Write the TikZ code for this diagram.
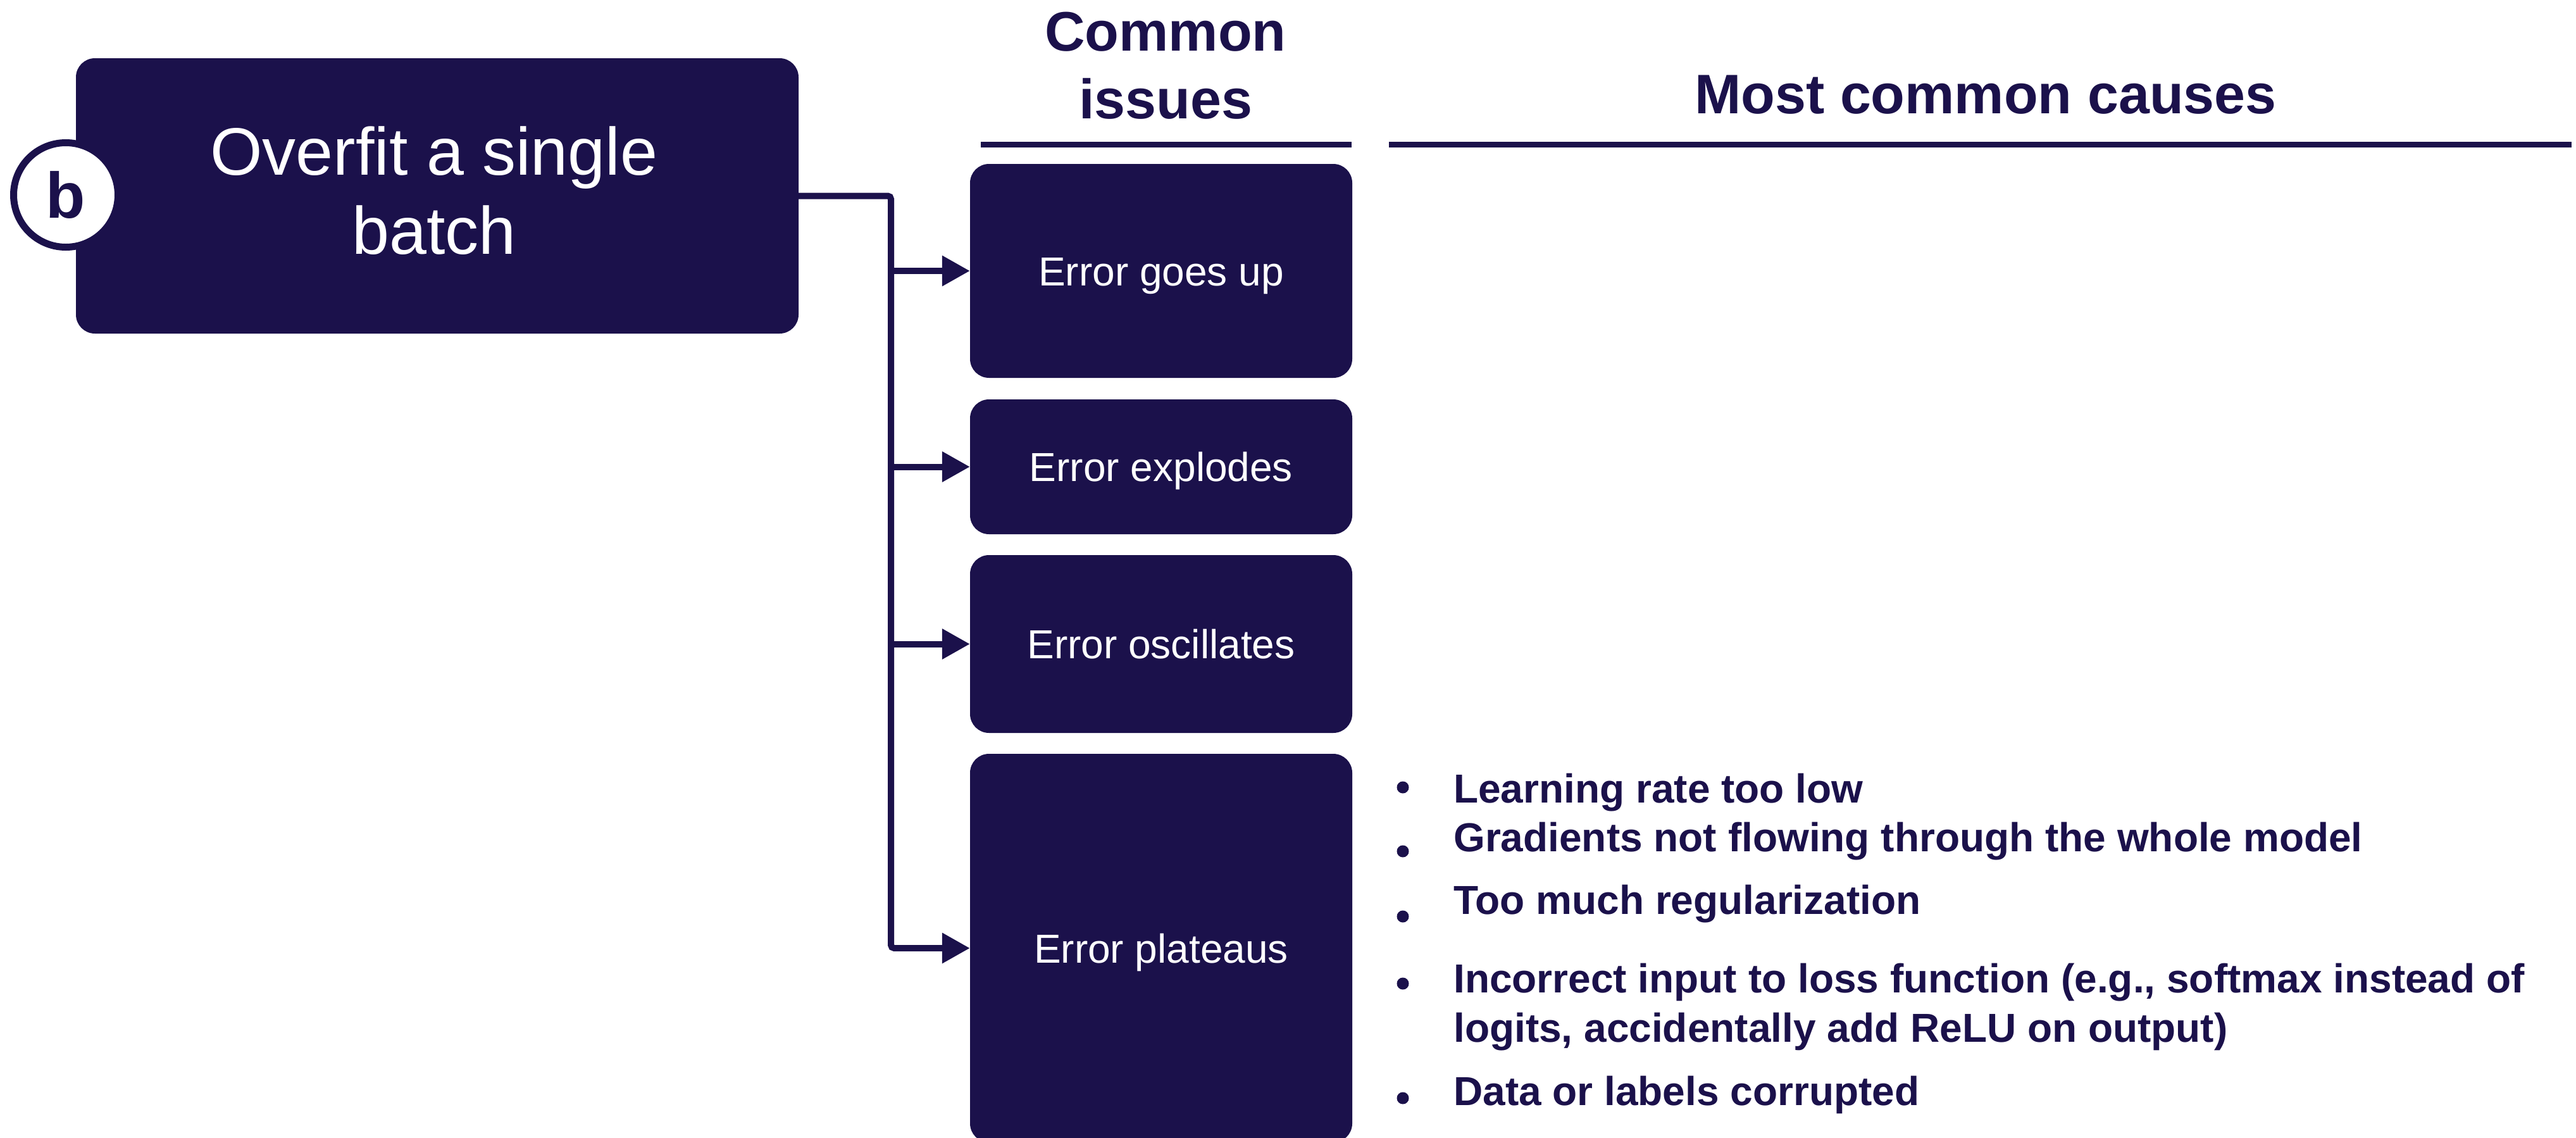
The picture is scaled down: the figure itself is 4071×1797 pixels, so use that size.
\documentclass[tikz,border=0pt]{standalone}
\usepackage{fontspec}
\setmainfont{Liberation Sans}
\usetikzlibrary{arrows.meta}
\definecolor{navy}{RGB}{27,17,75}

\begin{document}
\begin{tikzpicture}[x=1pt,y=-1pt,
  darkbox/.style={rectangle, rounded corners=30pt, fill=navy, draw=none, inner sep=0pt},
  issuebox/.style={darkbox, minimum width=604pt, text=white,
    font=\fontsize{64}{77}\selectfont, text height=46pt, text depth=0pt},
  headtext/.style={text=navy, inner sep=0pt, font=\fontsize{88}{107}\selectfont\bfseries},
  causetext/.style={text=navy, inner sep=0pt, anchor=base west,
    font=\fontsize{64}{78}\selectfont\bfseries},
  dot/.style={circle, fill=navy, inner sep=0pt, minimum size=19pt},
  rule/.style={draw=navy, line width=9pt},
  link/.style={draw=navy, line width=10pt, rounded corners=5pt},
  tip/.style={-{Triangle[length=44pt,width=46pt]}}
]
\clip (0,0) rectangle (4071,1797);
\fill[white] (0,0) rectangle (4071,1797);

% stage box with its badge
\node[darkbox, minimum width=1142pt, minimum height=435pt] (main) at (691,309.5) {};
\node[text=white, inner sep=0pt, align=center, font=\fontsize{106}{125}\selectfont]
  (maintitle) at (686,301) {Overfit a single\\batch};
\node[circle, draw=navy, line width=11pt, fill=white, minimum size=165pt, inner sep=0pt,
  text=navy, font=\fontsize{102}{110}\selectfont\bfseries] (badge) at (104,308) {b};

% column headings
\node[headtext, align=center] (hissues) at (1842,104) {Common\\issues};
\node[headtext, anchor=base] (hcauses) at (3138,179) {Most common causes};
\coordinate (r1a) at (1550,228.5);
\coordinate (r1b) at (2136,228.5);
\coordinate (r2a) at (2195,228.5);
\coordinate (r2b) at (4064,228.5);
\draw[rule] (r1a) -- (r1b);
\draw[rule] (r2a) -- (r2b);

% issue boxes
\node[issuebox, minimum height=338pt] (e1) at (1835,428) {Error goes up};
\node[issuebox, minimum height=213pt] (e2) at (1835,737.5) {Error explodes};
\node[issuebox, minimum height=281pt] (e3) at (1835,1017.5) {Error oscillates};
\node[issuebox, minimum height=614pt] (e4) at (1835,1498) {Error plateaus};

% connectors
\coordinate (jt) at (1408,309.5);
\coordinate (jb) at (1408,1498);
\draw[link, tip] (main.east) -- (jt) -- (jb) -- (e4.west);
\draw[link, tip] (e1.west -| jt) -- (e1.west);
\draw[link, tip] (e2.west -| jt) -- (e2.west);
\draw[link, tip] (e3.west -| jt) -- (e3.west);

% causes for a plateau
\node[dot] (b1) at (2217,1244) {};
\node[dot] (b2) at (2217,1345) {};
\node[dot] (b3) at (2217,1448) {};
\node[dot] (b4) at (2217,1554) {};
\node[dot] (b5) at (2217,1735) {};
\node[causetext] (c1) at (2297,1268) {Learning rate too low};
\node[causetext] (c2) at (2297,1345) {Gradients not flowing through the whole model};
\node[causetext] (c3) at (2297,1444) {Too much regularization};
\node[causetext] (c4) at (2297,1568) {Incorrect input to loss function (e.g., softmax instead of};
\node[causetext] (c4b) at (2297,1646) {logits, accidentally add ReLU on output)};
\node[causetext] (c5) at (2297,1746) {Data or labels corrupted};
\end{tikzpicture}
\end{document}
